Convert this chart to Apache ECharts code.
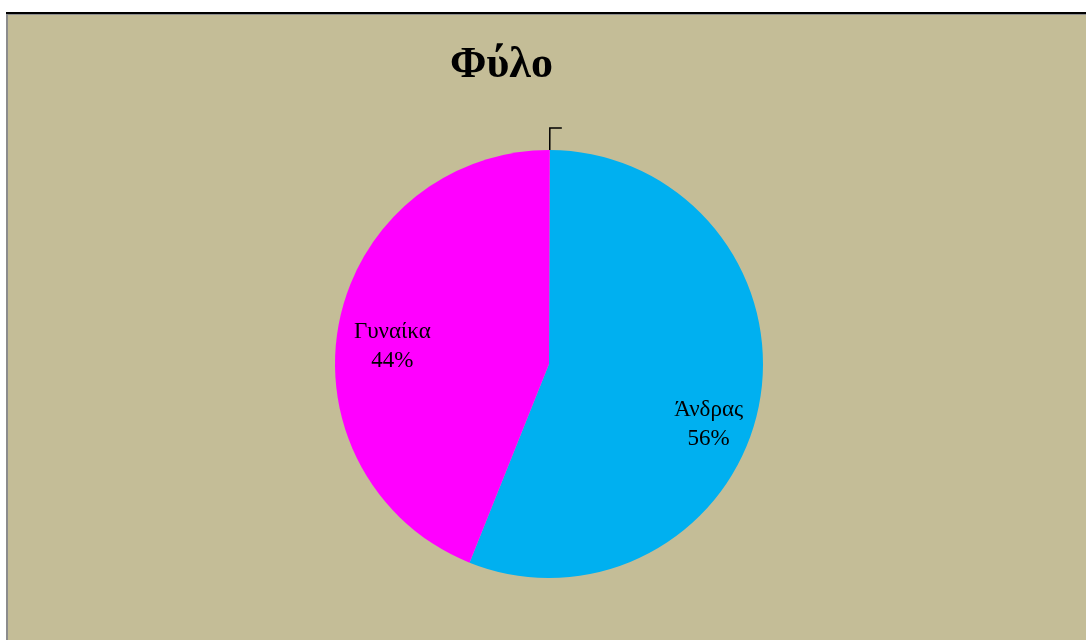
<!DOCTYPE html>
<html>
<head>
<meta charset="utf-8">
<script src="https://cdn.jsdelivr.net/npm/echarts@6/dist/echarts.min.js"></script>
<style>
  html, body { margin: 0; padding: 0; background: #fff; width: 1086px; height: 640px; overflow: hidden; }
  #frame { position: absolute; left: 6px; top: 12px; right: 0; bottom: 0; border-top: 2px solid #000; }
  #chart { position: absolute; left: 0; top: 0; right: 0; bottom: 0; border-top: 1px solid #8c8c8c; border-left: 2px solid #8c8c8c; background: #C4BD97; }
</style>
</head>
<body>
<div id="frame"><div id="chart"></div></div>
<script>
// Gender breakdown (percent)
const titleText = 'Φύλο';
const categories = ['', 'Άνδρας', 'Γυναίκα'];
const values = [0, 56, 44];
const colors = ['#C4BD97', '#00B0F0', '#FF00FF'];

const el = document.getElementById('chart');
const chart = echarts.init(el, null, { renderer: 'canvas' });

const pieCenter = [541, 349];
const pieRadius = 214;
const startAngle = 89.8;
const labelFont = { fontFamily: 'Liberation Serif', fontSize: 23, color: '#000', lineHeight: 29 };
// nudges for the two caption blocks
const labelOffsets = [[0, 0], [-5, 28], [8, 14]];

const sliceData = categories.map((name, i) => ({
  name, value: values[i], itemStyle: { color: colors[i] },
  label: values[i] === 0
    ? { show: true, position: 'outside', formatter: ' ', fontSize: 12 }
    : { show: false },
  labelLine: values[i] === 0
    ? { show: true, length: 22, length2: 12, lineStyle: { color: '#000', width: 1.5 } }
    : { show: false }
}));

// Label-only ring so the category captions sit further out from the centre
const labelData = categories.map((name, i) => ({
  name, value: values[i],
  label: { show: values[i] !== 0, offset: labelOffsets[i] }
}));

chart.setOption({
  backgroundColor: 'transparent',
  animation: false,
  title: {
    text: titleText,
    left: 437, top: 24,
    textStyle: { fontFamily: 'Liberation Serif', fontWeight: 'bold', fontSize: 44, color: '#000' }
  },
  series: [
    {
      type: 'pie',
      center: pieCenter,
      radius: [0, pieRadius],
      startAngle: startAngle,
      clockwise: true,
      stillShowZeroSum: true,
      minShowLabelAngle: 0,
      avoidLabelOverlap: false,
      silent: true,
      itemStyle: { borderWidth: 0 },
      data: sliceData
    },
    {
      type: 'pie',
      center: pieCenter,
      radius: [pieRadius * 0.54, pieRadius],
      startAngle: startAngle,
      clockwise: true,
      silent: true,
      itemStyle: { color: 'rgba(0,0,0,0)', borderWidth: 0 },
      label: {
        position: 'inside',
        formatter: p => p.name + '\n' + Math.round(p.percent) + '%',
        ...labelFont
      },
      labelLine: { show: false },
      data: labelData
    }
  ]
});
</script>
</body>
</html>
